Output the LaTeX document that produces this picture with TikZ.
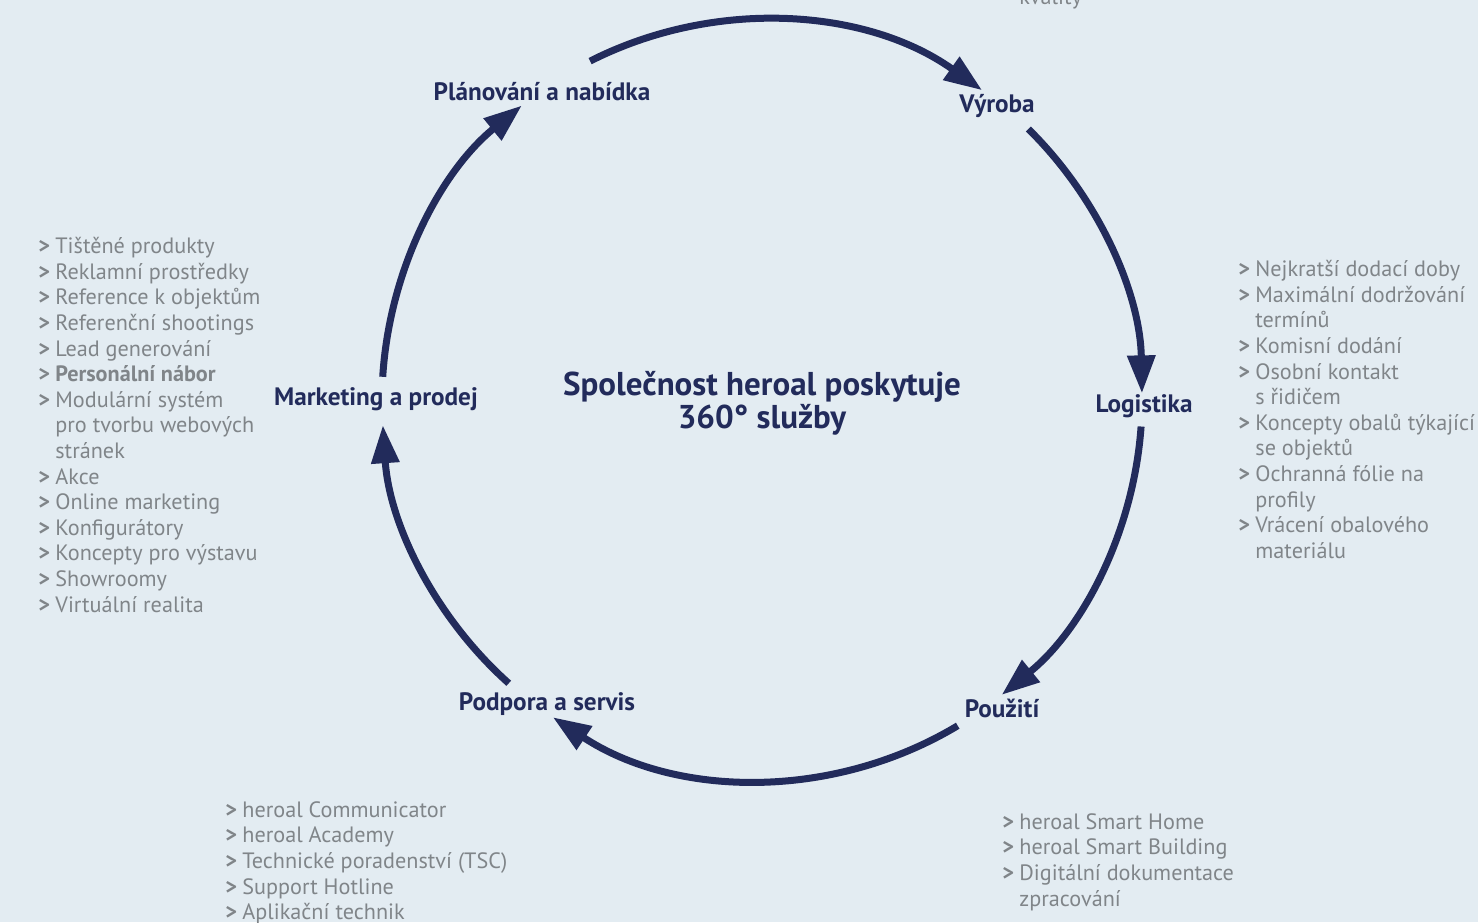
\documentclass[tikz,border=0pt]{standalone}
\usepackage{fontspec}
\setmainfont{PT Sans}
\usetikzlibrary{arrows.meta}
\definecolor{navy}{HTML}{222B5B}
\definecolor{greytxt}{HTML}{808589}
\definecolor{paper}{HTML}{E3ECF2}
\newcommand\itm{\makebox[8.5pt][l]{\textbf{>}}}
\newcommand\cnt{\hspace*{8.5pt}}
\begin{document}
\begin{tikzpicture}[x=0.5pt,y=-0.5pt,
    stage/.style={font=\bfseries\fontsize{12.6}{14}\selectfont,text=navy,inner sep=0pt},
    facts/.style={font=\fontsize{11.1}{12.8}\selectfont,text=greytxt,align=left,anchor=north west,inner sep=0pt},
    flow/.style={draw=navy,line width=3.5pt,-{Triangle[length=19pt,width=13.5pt]}}]
  \fill[paper] (0,0) rectangle (1478,922);
  \clip (0,0) rectangle (1478,922);
  \coordinate (ctr) at (762,400);
  % title in the middle
  \node[font=\bfseries\fontsize{16.5}{15.5}\selectfont,text=navy,align=center] (title) at (762,403)
    {Společnost heroal poskytuje\\360° služby};
  % the six stages
  \node[stage] (plan) at (542,92) {Plánování a nabídka};
  \node[stage] (vyroba) at (997,106) {Výroba};
  \node[stage] (logistika) at (1144,406) {Logistika};
  \node[stage] (pouziti) at (1002,708) {Použití};
  \node[stage] (podpora) at (547,704) {Podpora a servis};
  \node[stage] (marketing) at (376,399) {Marketing a prodej};
  % arcs of the cycle
  \draw[flow] (ctr) ++(-116.9:380) arc[start angle=-116.9,end angle=-54.6,radius=380];
  \draw[flow] (ctr) ++(-45.5:380) arc[start angle=-45.5,end angle=-1,radius=380];
  \draw[flow] (ctr) ++(4:380) arc[start angle=4,end angle=50.9,radius=380];
  \draw[flow] (ctr) ++(59:380) arc[start angle=59,end angle=123.4,radius=380];
  \draw[flow] (ctr) ++(131.8:380) arc[start angle=131.8,end angle=176.2,radius=380];
  \draw[flow] (ctr) ++(183.5:380) arc[start angle=183.5,end angle=230.8,radius=380];
  % lists
  \node[facts,anchor=base west] (kvality) at (1002,4) {\cnt kvality};
  \node[facts] (mlist) at (38,237) {\itm Tištěné produkty\\
    \itm Reklamní prostředky\\
    \itm Reference k objektům\\
    \itm Referenční shootings\\
    \itm Lead generování\\
    \itm \textbf{Personální nábor}\\
    \itm Modulární systém\\
    \cnt pro tvorbu webových\\
    \cnt stránek\\
    \itm Akce\\
    \itm Online marketing\\
    \itm Konfigurátory\\
    \itm Koncepty pro výstavu\\
    \itm Showroomy\\
    \itm Virtuální realita};
  \node[facts] (llist) at (1238,260) {\itm Nejkratší dodací doby\\
    \itm Maximální dodržování\\
    \cnt termínů\\
    \itm Komisní dodání\\
    \itm Osobní kontakt\\
    \cnt s řidičem\\
    \itm Koncepty obalů týkající\\
    \cnt se objektů\\
    \itm Ochranná fólie na\\
    \cnt profily\\
    \itm Vrácení obalového\\
    \cnt materiálu};
  \node[facts] (plist) at (225,801) {\itm heroal Communicator\\
    \itm heroal Academy\\
    \itm Technické poradenství (TSC)\\
    \itm Support Hotline\\
    \itm Aplikační technik};
  \node[facts] (ulist) at (1002,813) {\itm heroal Smart Home\\
    \itm heroal Smart Building\\
    \itm Digitální dokumentace\\
    \cnt zpracování};
\end{tikzpicture}
\end{document}
